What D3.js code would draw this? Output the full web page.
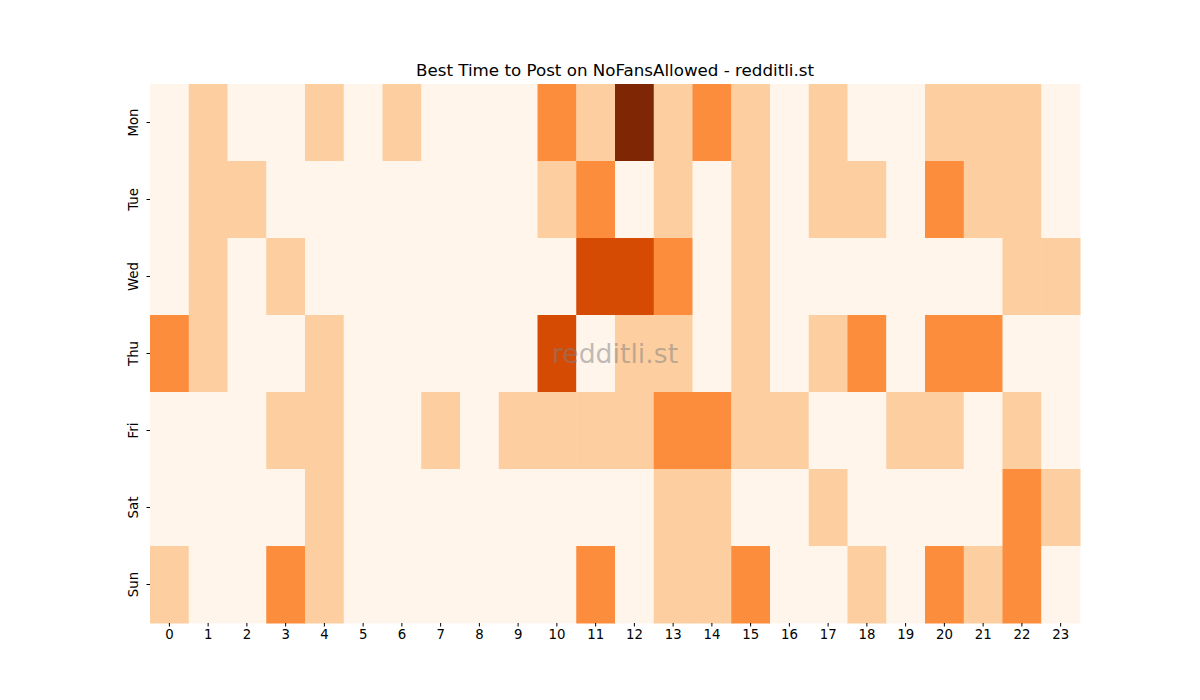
<!DOCTYPE html>
<html>
<head>
<meta charset="utf-8">
<script src="https://cdn.jsdelivr.net/npm/d3@7"></script>
<style>
  body { margin: 0; background: #fff; }
  text { font-family: "DejaVu Sans", sans-serif; }
</style>
</head>
<body>
<div id="chart"></div>
<script>
// days (rows) and hours (columns)
const days = ["Mon", "Tue", "Wed", "Thu", "Fri", "Sat", "Sun"];
const hours = d3.range(24);

// post counts per hour, one array per day
const mon = [0,1,0,0,1,0,1,0,0,0,2,1,4,1,2,1,0,1,0,0,1,1,1,0];
const tue = [0,1,1,0,0,0,0,0,0,0,1,2,0,1,0,1,0,1,1,0,2,1,1,0];
const wed = [0,1,0,1,0,0,0,0,0,0,0,3,3,2,0,1,0,0,0,0,0,0,1,1];
const thu = [2,1,0,0,1,0,0,0,0,0,3,0,1,1,0,1,0,1,2,0,2,2,0,0];
const fri = [0,0,0,1,1,0,0,1,0,1,1,1,1,2,2,1,1,0,0,1,1,0,1,0];
const sat = [0,0,0,0,1,0,0,0,0,0,0,0,0,1,1,0,0,1,0,0,0,0,2,1];
const sun = [1,0,0,2,1,0,0,0,0,0,0,2,0,1,1,2,0,0,1,0,2,1,2,0];
const grid = [mon, tue, wed, thu, fri, sat, sun];

const width = 1200, height = 700;
const marginLeft = 150, marginRight = 120, marginTop = 84, marginBottom = 77;

let svg = d3.select("#chart")
    .append("svg")
    .attr("width", width)
    .attr("height", height);

let cells = [];
grid.forEach((row, i) => row.forEach((v, j) => cells.push({day: days[i], hour: hours[j], value: v})));

let scaleX = d3.scaleBand()
    .domain(hours)
    .range([marginLeft, width - marginRight]);

let scaleY = d3.scaleBand()
    .domain(days)
    .range([marginTop, height - marginBottom]);

let color = d3.scaleSequential(d3.interpolateOranges)
    .domain([0, d3.max(cells, d => d.value)]);

svg.append("g")
    .selectAll("rect")
    .data(cells)
    .enter()
    .append("rect")
    .attr("x", d => scaleX(d.hour))
    .attr("y", d => scaleY(d.day))
    .attr("width", scaleX.bandwidth() + 0.5)
    .attr("height", scaleY.bandwidth() + 0.5)
    .attr("fill", d => color(d.value));

// axes
let axisX = svg.append("g")
    .attr("transform", `translate(0, ${height - marginBottom})`)
    .call(d3.axisBottom(scaleX).tickSize(3.5).tickPadding(3.5));
axisX.select(".domain").remove();
axisX.selectAll("text").style("font-size", "13.3px").attr("fill", "#000");

let axisY = svg.append("g")
    .attr("transform", `translate(${marginLeft}, 0)`)
    .call(d3.axisLeft(scaleY).tickSize(3.5).tickPadding(3.5));
axisY.select(".domain").remove();
// labels turned upright like the reference, baseline close to the tick
axisY.selectAll("text")
    .style("font-size", "13.3px")
    .attr("fill", "#000")
    .attr("text-anchor", "middle")
    .attr("x", -12)
    .attr("dy", 0)
    .attr("transform", "rotate(-90, -12, 0)");

// title
svg.append("text")
    .attr("x", (marginLeft + width - marginRight) / 2)
    .attr("y", 76)
    .attr("text-anchor", "middle")
    .style("font-size", "16.7px")
    .text("Best Time to Post on NoFansAllowed - redditli.st");

// watermark
svg.append("text")
    .attr("x", (marginLeft + width - marginRight) / 2)
    .attr("y", (marginTop + height - marginBottom) / 2)
    .attr("text-anchor", "middle")
    .attr("dominant-baseline", "central")
    .attr("fill", "#808080")
    .attr("fill-opacity", 0.5)
    .style("font-size", "26.7px")
    .text("redditli.st");
</script>
</body>
</html>
